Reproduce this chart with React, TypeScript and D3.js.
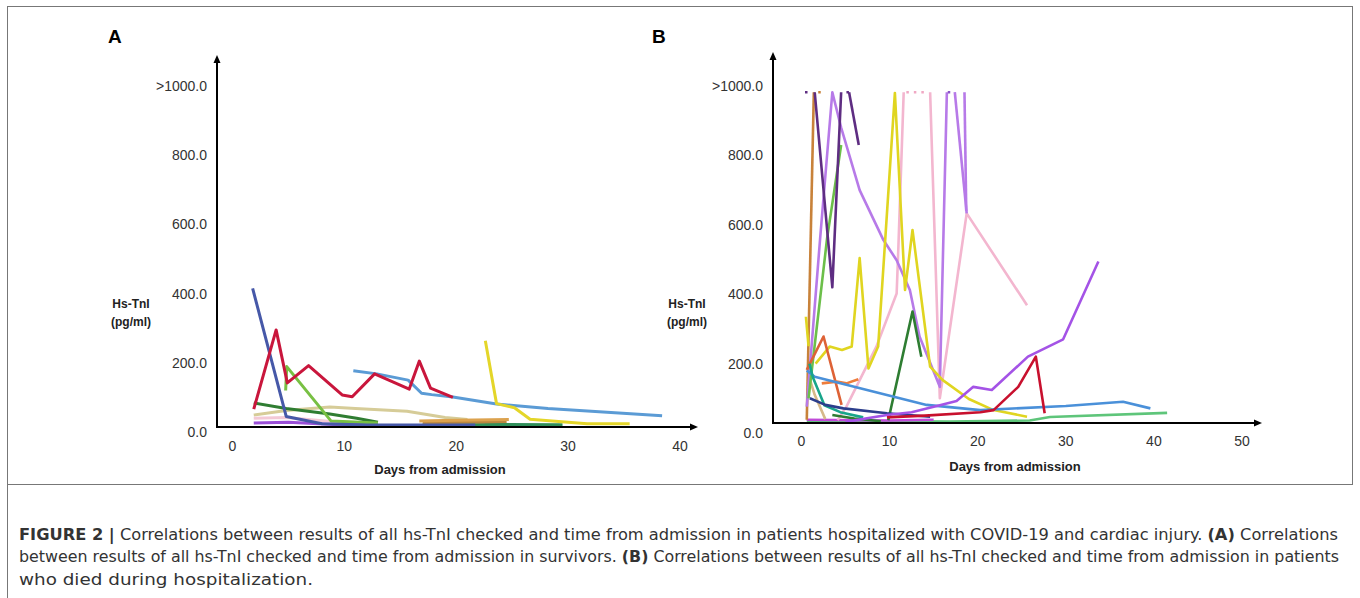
import React from "react";
import * as d3 from "d3";

// ---------- Panel A (survivors) : [day, hs-TnI pg/ml] ----------
const A_navy = [[1.8, 415], [4.8, 45], [8, 24], [12, 20], [21.7, 20]];
const A_crimson = [[1.9, 66], [3.9, 295], [4.9, 142], [6.8, 192], [9.8, 107], [10.7, 102], [12.7, 168], [15.8, 124], [16.7, 205], [17.7, 127], [19.7, 100]];
const A_lightBlue = [[10.8, 177], [12.9, 168], [15.7, 150], [16.9, 112], [17.8, 108], [19.7, 101], [23.6, 81], [28.2, 68], [38.4, 47]];
const A_yellow = [[22.6, 264], [23.6, 82], [25.2, 70], [26.6, 37], [31.7, 24], [35.5, 24]];
const A_lightGreen = [[4.75, 120], [4.85, 189], [8.8, 32], [13, 26]];
const A_darkGreen = [[1.9, 84], [4.8, 68], [8.7, 52], [11.1, 40], [13, 28]];
const A_khaki = [[1.9, 49], [4.8, 62], [8.7, 72], [11, 68], [15.6, 60], [19, 42], [21, 36]];
const A_pink = [[1.9, 40], [4.8, 42], [9, 30], [12, 26]];
const A_purple = [[1.9, 26], [5, 28], [9, 22], [12, 22]];
const A_orange = [[16.7, 32], [20, 34], [24.7, 36]];
const A_brown = [[17, 26], [24.5, 30]];
const A_teal = [[17, 20], [23, 22], [29.5, 21]];

// ---------- Panel B (non-survivors) ----------
const B_brown = [[0.6, 38], [1.4, 982]];
const B_darkPurple1 = [[1.5, 982], [3.5, 420], [4.5, 982]];
const B_darkPurple2 = [[5.4, 982], [6.5, 830]];
const B_lilac = [[0.6, 76], [2.1, 556], [3.5, 982], [4.5, 880], [6.6, 700], [9.3, 556], [10.8, 498], [12.3, 412], [13.4, 278], [15.7, 133], [16.5, 982]];
const B_lilac2 = [[17.4, 982], [18.75, 633]];
const B_lilac3 = [[18.5, 982], [18.7, 640]];
const B_violet = [[5, 32], [9.7, 52], [12.5, 60], [15.7, 80], [17.6, 92], [19.5, 133], [21.6, 124], [25.7, 220], [29.7, 270], [33.7, 494]];
const B_yellow = [[1.6, 200], [3.2, 249], [4.6, 239], [5.7, 249], [6.6, 504], [7.6, 186], [8.7, 249], [9.5, 556], [10.6, 980], [11.75, 412], [12.6, 585], [14.6, 191], [16, 153], [19, 98], [21.8, 66], [25.6, 47]];
const B_yellow2 = [[0.5, 335], [0.8, 250]];
const B_pink1 = [[4.1, 37], [5.1, 76], [8.5, 249], [10.8, 402], [11, 537], [11.6, 982]];
const B_pink2 = [[14.6, 982], [15.7, 100], [18.75, 633], [25.6, 368]];
const B_green = [[0.8, 100], [2.9, 560], [4.5, 830]];
const B_darkGreen = [[9.85, 37], [12.6, 350], [13.6, 220]];
const B_darkGreen2 = [[3.5, 52], [6, 42], [9, 34]];
const B_tomato = [[0.6, 182], [2.5, 278], [4.55, 81]];
const B_orange = [[2.3, 143], [4, 148], [5.1, 143], [6.45, 155]];
const B_blue = [[0.6, 180], [1.5, 162], [8, 120], [14.2, 81], [20.3, 66], [30, 78], [36.5, 90], [39.6, 71]];
const B_teal = [[0.9, 200], [1.3, 160], [2.6, 80], [4.4, 60], [7, 45]];
const B_navy = [[0.95, 100], [2.7, 81], [4.75, 71], [9.7, 57], [14.6, 47]];
const B_crimson = [[9.7, 45], [14, 50], [20.3, 60], [21.8, 66], [24.6, 133], [26.6, 220], [27.6, 57]];
const B_lightGreen = [[0.6, 35], [16.9, 33], [25.9, 36], [28.2, 46], [41.5, 58]];
const B_tan = [[1.0, 150], [1.5, 110], [2.7, 40]];
const B_magenta = [[0.6, 38], [10, 36], [15, 38]];
// dotted marks at the >1000 ceiling: [startDay, endDay]
const B_capDark = [[0.4, 0.9], [5.1, 5.4]];
const B_capBrown = [[1.9, 2.6]];
const B_capPink = [[11.9, 14.3]];
const B_capPurple = [[16.6, 17.2]];

const yTickValues = [0, 200, 400, 600, 800, 1000];
const yTickLabels = ["0.0", "200.0", "400.0", "600.0", "800.0", ">1000.0"];
const A_xTicks = [0, 10, 20, 30, 40];
const B_xTicks = [0, 10, 20, 30, 40, 50];

const A_series = [
  { d: A_khaki, c: "#d6cc98" },
  { d: A_pink, c: "#f3c9d6" },
  { d: A_purple, c: "#9a4fd8" },
  { d: A_teal, c: "#2f8f5a" },
  { d: A_brown, c: "#b9863e" },
  { d: A_orange, c: "#dca24e" },
  { d: A_darkGreen, c: "#2f7d32" },
  { d: A_lightGreen, c: "#78c043" },
  { d: A_navy, c: "#4658a8" },
  { d: A_lightBlue, c: "#5b9bd5" },
  { d: A_yellow, c: "#e4d629" },
  { d: A_crimson, c: "#c9163c" },
];

const B_series = [
  { d: B_lightGreen, c: "#5ec57a" },
  { d: B_magenta, c: "#c04ad8" },
  { d: B_tan, c: "#d6b98a" },
  { d: B_brown, c: "#c8823a" },
  { d: B_pink1, c: "#f3b6cf" },
  { d: B_pink2, c: "#f3b6cf" },
  { d: B_lilac, c: "#b77ae8" },
  { d: B_lilac2, c: "#b77ae8" },
  { d: B_lilac3, c: "#b77ae8" },
  { d: B_yellow, c: "#e0d520" },
  { d: B_yellow2, c: "#e0d520" },
  { d: B_green, c: "#6cbf4a" },
  { d: B_darkPurple1, c: "#5e2d82" },
  { d: B_darkPurple2, c: "#5e2d82" },
  { d: B_darkGreen, c: "#2e7d32" },
  { d: B_darkGreen2, c: "#2e7d32" },
  { d: B_tomato, c: "#de6236" },
  { d: B_orange, c: "#ee7d3c" },
  { d: B_blue, c: "#4a90d9" },
  { d: B_teal, c: "#18a58a" },
  { d: B_navy, c: "#2c3e8c" },
  { d: B_violet, c: "#a453e6" },
  { d: B_crimson, c: "#c8102e" },
];

const B_caps = [
  { d: B_capDark, c: "#5e2d82" },
  { d: B_capBrown, c: "#c8823a" },
  { d: B_capPink, c: "#f0a8c4" },
  { d: B_capPurple, c: "#8a55c8" },
];

const FONT = "Liberation Sans, Arial, Helvetica, sans-serif";

type PanelProps = {
  letter: string;
  letterX: number;
  axisX: number;
  axisTop: number;
  axisY: number;
  axisRight: number;
  xDomain: [number, number];
  xRange: [number, number];
  yRange: [number, number];
  xTicks: number[];
  xTickY: number;
  titleX: number;
  titleY: number;
  yLabelX: number;
  series: { d: number[][]; c: string }[];
  caps?: { d: number[][]; c: string }[];
  strokeW: number;
};

function Panel(p: PanelProps) {
  const x = d3.scaleLinear().domain(p.xDomain).range(p.xRange);
  const y = d3.scaleLinear().domain([0, 1000]).range(p.yRange);
  const line = d3
    .line<number[]>()
    .x((d) => x(d[0]))
    .y((d) => y(d[1]));
  return (
    <g fontFamily={FONT}>
      <text x={p.letterX} y={43} fontSize={19} fontWeight="bold" fill="#000">
        {p.letter}
      </text>
      {p.series.map((s, i) => (
        <path key={i} d={line(s.d) || ""} fill="none" stroke={s.c} strokeWidth={p.strokeW} strokeLinejoin="round" strokeLinecap="butt" />
      ))}
      {(p.caps || []).map((s, i) =>
        s.d.map((seg, j) => (
          <line key={i + "-" + j} x1={x(seg[0])} x2={x(seg[1])} y1={y(982)} y2={y(982)} stroke={s.c} strokeWidth={2.5} strokeDasharray="2.5,5" />
        ))
      )}
      {/* axes */}
      <line x1={p.axisX} x2={p.axisX} y1={p.axisTop + 6} y2={p.axisY + 1} stroke="#000" strokeWidth={2} />
      <path d={`M${p.axisX - 3.5},${p.axisTop + 8} L${p.axisX},${p.axisTop} L${p.axisX + 3.5},${p.axisTop + 8} Z`} fill="#000" />
      <line x1={p.axisX - 1} x2={p.axisRight - 6} y1={p.axisY} y2={p.axisY} stroke="#000" strokeWidth={2} />
      <path d={`M${p.axisRight - 8},${p.axisY - 3.5} L${p.axisRight},${p.axisY} L${p.axisRight - 8},${p.axisY + 3.5} Z`} fill="#000" />
      {yTickValues.map((v, i) => (
        <text key={v} x={p.axisX - 10} y={y(v)} dy="0.35em" textAnchor="end" fontSize={14} fill="#333">
          {yTickLabels[i]}
        </text>
      ))}
      {p.xTicks.map((v) => (
        <text key={v} x={x(v)} y={p.xTickY} dy="0.35em" textAnchor="middle" fontSize={14} fill="#333">
          {v}
        </text>
      ))}
      <text x={p.titleX} y={p.titleY} textAnchor="middle" fontSize={13} fontWeight="bold" fill="#222">
        Days from admission
      </text>
      <text x={p.yLabelX} y={308} textAnchor="middle" fontSize={12} fontWeight="bold" fill="#222">
        Hs-TnI
      </text>
      <text x={p.yLabelX} y={326} textAnchor="middle" fontSize={12} fontWeight="bold" fill="#222">
        (pg/ml)
      </text>
    </g>
  );
}

const CAPTION_FONT = "'Liberation Sans Narrow', 'Arial Narrow', 'DejaVu Sans Condensed', sans-serif";

export default function App() {
  return (
    <svg width={1360} height={598} style={{ position: "absolute", left: 0, top: 0, background: "#fff" }}>
      <rect x={0} y={0} width={1360} height={598} fill="#fff" />
      <rect x={7.5} y={6.5} width={1345} height={478} fill="none" stroke="#777" strokeWidth={1} />
      <line x1={7.5} x2={7.5} y1={484} y2={598} stroke="#777" strokeWidth={1} />
      <Panel
        letter="A"
        letterX={108}
        axisX={217}
        axisTop={55}
        axisY={427}
        axisRight={698}
        xDomain={[0, 40]}
        xRange={[232.5, 680]}
        yRange={[432, 86]}
        xTicks={A_xTicks}
        xTickY={446}
        titleX={440}
        titleY={474}
        yLabelX={131}
        series={A_series}
        strokeW={3}
      />
      <Panel
        letter="B"
        letterX={652}
        axisX={773}
        axisTop={52}
        axisY={423}
        axisRight={1262}
        xDomain={[0, 50]}
        xRange={[801.5, 1242]}
        yRange={[433, 86]}
        xTicks={B_xTicks}
        xTickY={441}
        titleX={1015}
        titleY={471}
        yLabelX={687}
        series={B_series}
        caps={B_caps}
        strokeW={2.6}
      />
      <g fontFamily={CAPTION_FONT} fontSize={15.5} fill="#333">
        <text x={19} y={540} textLength={1319} lengthAdjust="spacingAndGlyphs">
          <tspan fontWeight="bold">FIGURE 2 |</tspan> Correlations between results of all hs-TnI checked and time from admission in patients hospitalized with COVID-19 and cardiac injury. <tspan fontWeight="bold">(A)</tspan> Correlations
        </text>
        <text x={19} y={562} textLength={1320} lengthAdjust="spacingAndGlyphs">
          between results of all hs-TnI checked and time from admission in survivors. <tspan fontWeight="bold">(B)</tspan> Correlations between results of all hs-TnI checked and time from admission in patients
        </text>
        <text x={19} y={585} textLength={294} lengthAdjust="spacingAndGlyphs">
          who died during hospitalization.
        </text>
      </g>
    </svg>
  );
}
